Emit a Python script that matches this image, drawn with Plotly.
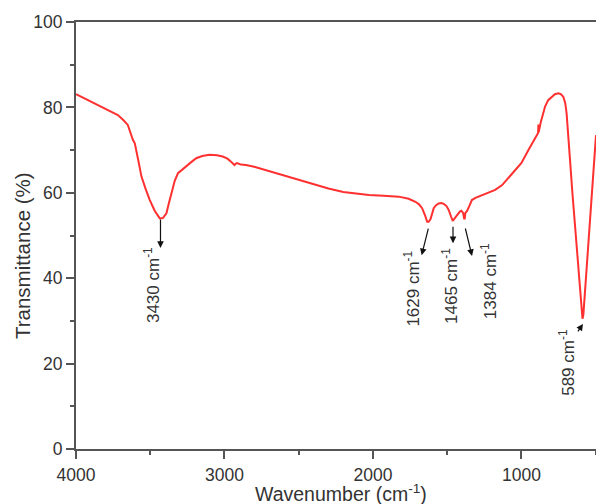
import plotly.graph_objects as go

wavenumber = [4000, 3900, 3800, 3718, 3680, 3651, 3617, 3604, 3580, 3559, 3530, 3503, 3470, 3436, 3415,
              3391, 3375, 3358, 3335, 3313, 3290, 3257, 3220, 3190, 3150, 3101, 3050, 3012, 2980, 2956,
              2933, 2920, 2911, 2890, 2855, 2800, 2720, 2600, 2497, 2400, 2300, 2200, 2100, 2027, 1930,
              1826, 1760, 1714, 1690, 1669, 1650, 1635, 1625, 1613, 1600, 1591, 1575, 1557, 1540, 1523,
              1505, 1490, 1475, 1463, 1450, 1434, 1415, 1405, 1393, 1386, 1382, 1378, 1367, 1350, 1334,
              1310, 1289, 1230, 1177, 1130, 1099, 1049, 1000, 953, 920, 897, 888, 886, 884, 870, 841, 820,
              797, 775, 752, 735, 718, 705, 696, 685, 673, 657, 640, 622, 606, 596, 589, 583, 575, 568,
              554, 539, 527, 517, 505, 498]
transmittance = [83.1, 81.4, 79.7, 78.2, 77.0, 75.9, 72.4, 71.6, 67.5, 63.8, 60.8, 58.3, 55.8, 54.0, 54.1,
                 55.2, 57.5, 59.9, 62.8, 64.6, 65.3, 66.1, 67.3, 68.1, 68.6, 68.9, 68.8, 68.5, 68.0, 67.3,
                 66.5, 66.9, 66.9, 66.6, 66.5, 66.1, 65.3, 64.1, 63.0, 62.0, 61.0, 60.2, 59.7, 59.5, 59.3,
                 59.1, 58.6, 57.9, 57.3, 56.4, 54.8, 53.2, 53.2, 53.8, 55.3, 56.4, 57.1, 57.5, 57.6, 57.4,
                 56.9, 56.0, 54.5, 53.4, 54.0, 54.8, 55.6, 55.8, 55.3, 54.0, 54.0, 55.3, 55.7, 57.0, 58.3,
                 58.8, 59.1, 59.9, 60.7, 61.8, 63.0, 64.9, 67.0, 70.0, 72.0, 73.5, 74.0, 76.0, 74.2, 76.5, 80.2, 81.7,
                 82.5, 83.1, 83.3, 83.1, 82.5, 81.0, 78.6, 74.0, 67.7, 60.0, 52.1, 44.0, 36.5, 32.0, 30.5, 31.5, 35.5, 40.2,
                 46.8, 54.0, 60.0, 64.7, 70.5, 73.5]

peak_labels = ["3430 cm<sup>-1</sup>", "1629 cm<sup>-1</sup>", "1465 cm<sup>-1</sup>",
               "1384 cm<sup>-1</sup>", "589 cm<sup>-1</sup>"]
label_x = [3488, 1739, 1481, 1219, 694]
label_y = [38.4, 37.5, 38.2, 39.3, 20.4]
arrow_x = [3431, 1672, 1461, 1333, 586]
arrow_y = [47.1, 45.4, 48.2, 45.2, 29.3]
arrow_ax = [0, 7, 0, -7, -6]
arrow_ay = [-30, -28, -18, -29, 9]

x_ticks = [4000, 3000, 2000, 1000]
y_ticks = [0, 20, 40, 60, 80, 100]

FONT = "Liberation Sans, Arial, sans-serif"
AXC = "#555555"
TXT = "#333333"

fig = go.Figure()
fig.add_trace(go.Scatter(x=wavenumber, y=transmittance, mode="lines",
                         line=dict(color="#ff3030", width=2), showlegend=False))

for t, x, y in zip(peak_labels, label_x, label_y):
    fig.add_annotation(x=x, y=y, xref="x", yref="y", text=t, showarrow=False,
                       textangle=-90, font=dict(family=FONT, size=17, color=TXT),
                       xanchor="center", yanchor="middle")
for x, y, ax, ay in zip(arrow_x, arrow_y, arrow_ax, arrow_ay):
    fig.add_annotation(x=x, y=y, xref="x", yref="y", text="", showarrow=True,
                       ax=ax, ay=ay, arrowhead=2, arrowsize=1.1, arrowwidth=1.2,
                       arrowcolor="#111111")

# axis titles placed as annotations to match their positions
fig.add_annotation(x=-0.104, y=0.454, xref="paper", yref="paper", text="Transmittance (%)",
                   showarrow=False, textangle=-90, xanchor="center", yanchor="middle",
                   font=dict(family=FONT, size=20.5, color=TXT))
fig.add_annotation(x=0.5096, y=-0.103, xref="paper", yref="paper",
                   text="Wavenumber (cm<sup>-1</sup>)",
                   showarrow=False, xanchor="center", yanchor="middle",
                   font=dict(family=FONT, size=19.5, color=TXT))

fig.update_layout(
    width=596, height=504,
    margin=dict(l=76, r=0, t=22, b=55),
    paper_bgcolor="white", plot_bgcolor="white",
    font=dict(family=FONT, color=TXT, size=17.5),
)
fig.update_xaxes(range=[4000, 498], tickvals=x_ticks, ticks="outside", ticklen=8, tickwidth=1.5,
                 tickcolor=AXC, showline=True, linecolor=AXC, linewidth=2, mirror=True,
                 showgrid=False, zeroline=False, ticklabelstandoff=1,
                 minor=dict(dtick=500, ticks="outside", ticklen=4, tickcolor=AXC, tickwidth=1.5),
                 tickfont=dict(size=17.5))
fig.update_yaxes(range=[0, 100], tickvals=y_ticks, ticks="outside", ticklen=8, tickwidth=1.5,
                 tickcolor=AXC, showline=True, linecolor=AXC, linewidth=2,
                 showgrid=False, zeroline=False,
                 minor=dict(dtick=10, ticks="outside", ticklen=4, tickcolor=AXC, tickwidth=1.5),
                 tickfont=dict(size=17.5))

fig.write_html("out.html")
